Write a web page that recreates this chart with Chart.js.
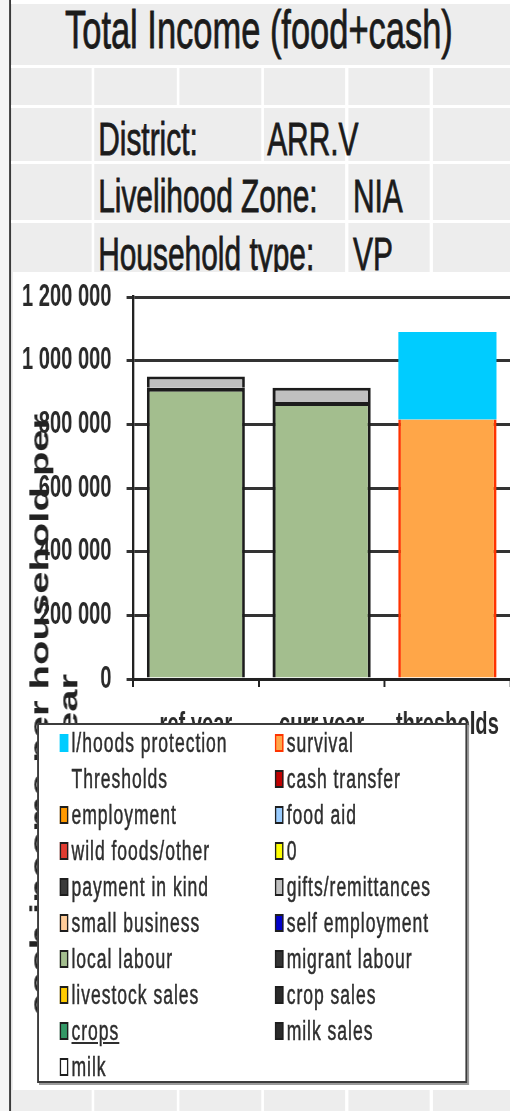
<!DOCTYPE html>
<html>
<head>
<meta charset="utf-8">
<script src="https://cdn.jsdelivr.net/npm/chart.js@4.4.1/dist/chart.umd.min.js"></script>
<style>
  html, body { margin: 0; padding: 0; background: #fff; overflow: hidden; }
  /* the whole sheet is drawn 1.54x wider then squeezed, like the condensed screenshot */
  #sheet { position: absolute; left: 0; top: 0; width: 785px; height: 1111px; background: #ededed;
           transform: scaleX(0.65); transform-origin: 0 0; overflow: hidden;
           font-family: 'Liberation Sans', Arial, sans-serif; color: #1b1b1b; }
  .ln { position: absolute; background: #fff; }
  .txt { position: absolute; white-space: nowrap; line-height: 1; -webkit-text-stroke: 0.8px #1b1b1b; }
  #chartBox { position: absolute; left: 20px; top: 272px; width: 765px; height: 818px; background: #fff; }
  #yTitle { position: absolute; left: -267px; top: 671px; width: 700px; height: 88px; text-align: center;
            font-weight: bold; font-size: 40px; line-height: 44px; color: #222; white-space: nowrap;
            transform: rotate(-90deg); }
  #legend { position: absolute; left: 57px; top: 723px; width: 662px; height: 360px; background: #fff;
            box-sizing: border-box; border: 2px solid #3c3c3c; border-left-width: 3px; border-right-width: 3px;
            box-shadow: 3px 2px 0 #9a9a9a; }
  .item { position: absolute; height: 36px; display: flex; align-items: center;
          font-size: 27px; letter-spacing: 1.5px; color: #2e2e2e; white-space: nowrap;
          -webkit-text-stroke: 0.5px #2e2e2e; }
  .mark { width: 9px; height: 14px; margin-right: 5px; border: 2px solid #1e1e1e; flex: none; }
</style>
</head>
<body>
<div id="sheet">
  <div class="ln" style="left:0;top:0;width:14px;height:1111px;background:#f5f5f5"></div>
  <div class="ln" style="left:13.5px;top:0;width:3.2px;height:1111px;background:#3a3a3a"></div>
  <div class="ln" style="left:17px;top:0;width:770px;height:4px"></div>
  <div class="ln" style="left:17px;top:65px;width:770px;height:3px"></div>
  <div class="ln" style="left:17px;top:105px;width:770px;height:3px"></div>
  <div class="ln" style="left:17px;top:161px;width:770px;height:3px"></div>
  <div class="ln" style="left:17px;top:220px;width:770px;height:3px"></div>
  <div class="ln" style="left:140.5px;top:66px;width:4.6px;height:206px"></div>
  <div class="ln" style="left:271.5px;top:66px;width:4.6px;height:40px"></div>
  <div class="ln" style="left:401.5px;top:66px;width:4.6px;height:96px"></div>
  <div class="ln" style="left:531px;top:66px;width:4.6px;height:206px"></div>
  <div class="ln" style="left:661px;top:66px;width:4.6px;height:206px"></div>
  <div class="ln" style="left:140.5px;top:1090px;width:4.6px;height:21px"></div>
  <div class="ln" style="left:271.5px;top:1090px;width:4.6px;height:21px"></div>
  <div class="ln" style="left:401.5px;top:1090px;width:4.6px;height:21px"></div>
  <div class="ln" style="left:531px;top:1090px;width:4.6px;height:21px"></div>
  <div class="ln" style="left:661px;top:1090px;width:4.6px;height:21px"></div>

  <div class="txt" style="left:100px;top:3px;font-size:53px">Total Income (food+cash)</div>
  <div class="txt" style="left:151px;top:116px;font-size:46px">District:</div>
  <div class="txt" style="left:411px;top:116px;font-size:46px">ARR.V</div>
  <div class="txt" style="left:151px;top:173px;font-size:46px">Livelihood Zone:</div>
  <div class="txt" style="left:543px;top:173px;font-size:46px">NIA</div>
  <div class="txt" style="left:151px;top:231px;font-size:46px">Household type:</div>
  <div class="txt" style="left:543px;top:231px;font-size:46px">VP</div>

  <div id="chartBox"><canvas id="chart"></canvas></div>
  <div id="yTitle">cash income per household per<br>year</div>
  <div id="legend"></div>
</div>

<script>
// categories and values
const categories = ['ref.year', 'curr.year', 'thresholds'];
const yTickValues = [0, 200000, 400000, 600000, 800000, 1000000, 1200000];

const lhoodsProtection = [0, 0, 275000];
const survival = [0, 0, 815000];
const thresholdsLine = [0, 0, 0];
const cashTransfer = [0, 0, 0];
const employment = [0, 0, 0];
const foodAid = [0, 0, 0];
const wildFoods = [0, 0, 0];
const zeroSeries = [0, 0, 0];
const paymentInKind = [0, 0, 0];
const giftsRemittances = [35000, 45000, 0];
const smallBusiness = [0, 0, 0];
const selfEmployment = [0, 0, 0];
const localLabour = [915000, 870000, 0];
const migrantLabour = [0, 0, 0];
const livestockSales = [0, 0, 0];
const cropSales = [0, 0, 0];
const crops = [0, 0, 0];
const milkSales = [0, 0, 0];
const milk = [0, 0, 0];

// legend order (Excel lists the top of the stack first)
const seriesNames = ['l/hoods protection', 'survival', 'Thresholds', 'cash transfer', 'employment', 'food aid',
  'wild foods/other', '0', 'payment in kind', 'gifts/remittances', 'small business', 'self employment',
  'local labour', 'migrant labour', 'livestock sales', 'crop sales', 'crops', 'milk sales', 'milk'];
const seriesValues = [lhoodsProtection, survival, thresholdsLine, cashTransfer, employment, foodAid,
  wildFoods, zeroSeries, paymentInKind, giftsRemittances, smallBusiness, selfEmployment,
  localLabour, migrantLabour, livestockSales, cropSales, crops, milkSales, milk];
const seriesColors = ['#00CCFF', '#FFA648', 'rgba(0,0,0,0)', '#C00000', '#FF9900', '#99CCFF',
  '#E23B30', '#FFFF00', '#3A3A3A', '#C0C0C0', '#FFCC99', '#0000CC',
  '#A3BE8E', '#333333', '#FFCC00', '#2A2A2A', '#339966', '#2A2A2A', '#FFFFFF'];

function edgeFor(name) {
  if (name === 'l/hoods protection') return { color: '#00CCFF', width: 0 };
  if (name === 'survival') return { color: '#FF3300', width: { top: 0, left: 4, right: 4, bottom: 0 } };
  if (name === 'local labour') return { color: '#1c1c1c', width: { top: 4, left: 4.5, right: 4.5, bottom: 0 } };
  return { color: '#1c1c1c', width: { top: 3, left: 4.5, right: 4.5, bottom: 0 } };
}

// bottom of the stack first
var datasets = seriesNames.map((name, i) => ({
  label: name,
  data: seriesValues[i],
  backgroundColor: seriesColors[i],
  borderColor: edgeFor(name).color,
  borderWidth: edgeFor(name).width,
  borderSkipped: false
})).reverse();

function spaced(v) {
  return String(v).replace(/\B(?=(\d{3})+(?!\d))/g, ' ');
}

Chart.defaults.font.family = "'Liberation Sans', Arial, sans-serif";

var ctx = document.getElementById('chart').getContext('2d');
var chart = new Chart(ctx, {
  type: 'bar',
  data: { labels: categories, datasets },
  options: {
    responsive: true,
    maintainAspectRatio: false,
    animation: false,
    layout: { padding: { top: 25, right: 0, bottom: 0, left: 0 } },
    plugins: { legend: { display: false }, tooltip: { enabled: false } },
    datasets: { bar: { categoryPercentage: 1, barPercentage: 0.78 } },
    scales: {
      x: {
        stacked: true,
        grid: { drawOnChartArea: false, tickLength: 8, color: '#222', lineWidth: 3 },
        border: { color: '#222', width: 3 },
        ticks: { font: { size: 31, weight: 'bold' }, color: '#2a2a2a', padding: 20, maxRotation: 0 },
        afterFit: s => { s.height = 411; s.paddingLeft = 0; s.paddingRight = 0; }
      },
      y: {
        stacked: true,
        min: 0,
        max: 1200000,
        afterBuildTicks: s => { s.ticks = yTickValues.map(v => ({ value: v })); },
        ticks: { font: { size: 31, weight: 'bold' }, color: '#2a2a2a', padding: 23, callback: v => spaced(v) },
        grid: { color: '#333', lineWidth: 3, tickLength: 10 },
        border: { color: '#222', width: 3.5 },
        afterFit: s => { s.width = 184.6; s.paddingTop = 0; s.paddingBottom = 0; }
      }
    }
  }
});

// legend box drawn over the chart, as in the sheet
var legend = document.getElementById('legend');
seriesNames.forEach((name, i) => {
  var item = document.createElement('div');
  item.className = 'item';
  item.style.left = (i % 2 ? 363 : 32) + 'px';
  item.style.top = (Math.floor(i / 2) * 36) + 'px';
  var mark = document.createElement('span');
  mark.className = 'mark';
  mark.style.background = seriesColors[i];
  if (name === 'Thresholds') mark.style.borderColor = 'transparent';
  if (name === 'l/hoods protection') mark.style.borderColor = '#00CCFF';
  if (name === 'survival') mark.style.borderColor = '#FF3300';
  var label = document.createElement('span');
  label.textContent = name;
  if (name === 'crops') label.style.textDecoration = 'underline';
  item.appendChild(mark);
  item.appendChild(label);
  legend.appendChild(item);
});
</script>
</body>
</html>
